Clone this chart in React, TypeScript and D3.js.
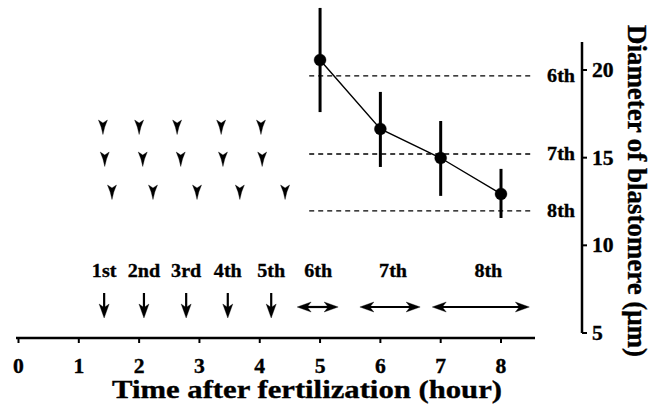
import React from "react";
import * as d3 from "d3";

const W = 661;
const H = 408;

// Blastomere diameter data (time in hours, diameter in µm)
const times = [5, 6, 7, 8];
const diameters = [20.57, 16.64, 14.98, 12.93];
const errLow = [17.6, 14.47, 12.82, 11.56];
const errHigh = [23.54, 18.75, 17.09, 14.36];

// Reference levels for 6th, 7th, 8th cleavage
const levelLabels = ["6th", "7th", "8th"];
const levelValues = [19.66, 15.21, 11.96];

// Arrowhead rows (times)
const arrowRow1 = [1.4, 2.0, 2.63, 3.36, 4.02];
const arrowRow2 = [1.43, 2.06, 2.69, 3.39, 4.04];
const arrowRow3 = [1.55, 2.23, 2.96, 3.67, 4.42];
const arrowRowY = [127, 159, 192];

// Cleavage events
const cleavageLabels = ["1st", "2nd", "3rd", "4th", "5th"];
const cleavageTimes = [1.42, 2.08, 2.78, 3.47, 4.19];
const rangeLabels = ["6th", "7th", "8th"];
const rangeStart = [4.62, 5.66, 6.86];
const rangeEnd = [5.3, 6.66, 8.47];
const rangeLabelPos = [4.97, 6.21, 7.79];

const xTicks = [0, 1, 2, 3, 4, 5, 6, 7, 8];
const yTicks = [5, 10, 15, 20];

const font = "'Liberation Serif', 'Times New Roman', serif";

function SText(props: {
  x: number;
  y: number;
  size: number;
  sx?: number;
  anchor?: string;
  children: React.ReactNode;
}) {
  const { x, y, size, sx = 1, anchor = "start", children } = props;
  return (
    <text
      transform={`translate(${x},${y}) scale(${sx},1)`}
      fontSize={size}
      textAnchor={anchor}
    >
      {children}
    </text>
  );
}

export default function App() {
  const x = d3.scaleLinear().domain([0, 8]).range([18.5, 501]);
  const y = d3.scaleLinear().domain([5, 20]).range([333, 70]);
  const axisY = 338;
  const yAxisX = 582;

  const line = d3
    .line<number>()
    .x((_, i) => x(times[i]))
    .y((d) => y(d));

  const arrowHead = (cx: number, cy: number, key: string) => (
    <path
      key={key}
      d={`M${cx},${cy + 7.5} L${cx - 1.8},${cy} L${cx - 4.5},${cy - 7} L${cx},${cy - 4} L${cx + 4.5},${cy - 7} L${cx + 1.8},${cy} Z`}
      fill="#000"
    />
  );

  const rows = [arrowRow1, arrowRow2, arrowRow3];

  return (
    <svg width={W} height={H} style={{ position: "absolute", left: 0, top: 0, background: "#fff" }}>
      <rect width={W} height={H} fill="#fff" />
      <g fontFamily={font} fontWeight="bold" fill="#000" stroke="#000" strokeWidth={0.35}>
        {/* dashed reference lines */}
        {levelValues.map((v, i) => (
          <g key={"lv" + i}>
            <line
              x1={x(4.82)}
              x2={x(8.52)}
              y1={y(v)}
              y2={y(v)}
              stroke="#000"
              strokeWidth={1.3}
              strokeDasharray="5,4"
            />
            <SText x={575} y={y(v) + 6.5} size={19.5} sx={1.03} anchor="end">
              {levelLabels[i]}
            </SText>
          </g>
        ))}

        {/* connecting line */}
        <path d={line(diameters) || ""} fill="none" stroke="#000" strokeWidth={1.4} />
        {/* error bars */}
        {times.map((t, i) => (
          <line
            key={"eb" + i}
            x1={x(t)}
            x2={x(t)}
            y1={y(errLow[i])}
            y2={y(errHigh[i])}
            stroke="#000"
            strokeWidth={3}
          />
        ))}
        {times.map((t, i) => (
          <circle key={"pt" + i} cx={x(t)} cy={y(diameters[i])} r={6} fill="#000" />
        ))}

        {/* arrowhead rows */}
        {rows.map((row, r) => row.map((t, j) => arrowHead(x(t), arrowRowY[r], `ah${r}-${j}`)))}

        {/* cleavage labels and down arrows */}
        {cleavageTimes.map((t, i) => (
          <g key={"cl" + i}>
            <SText x={x(t)} y={276.5} size={19.5} sx={1.03} anchor="middle">
              {cleavageLabels[i]}
            </SText>
            <line x1={x(t)} x2={x(t)} y1={293} y2={309} stroke="#000" strokeWidth={2.2} />
            <path
              d={`M${x(t)},${318} L${x(t) - 5},${304} L${x(t)},${307.5} L${x(t) + 5},${304} Z`}
              fill="#000"
            />
          </g>
        ))}

        {/* range double arrows */}
        {rangeStart.map((s, i) => {
          const a = x(s);
          const b = x(rangeEnd[i]);
          const yy = 307;
          return (
            <g key={"rg" + i}>
              <SText x={x(rangeLabelPos[i])} y={276.5} size={19.5} sx={1.03} anchor="middle">
                {rangeLabels[i]}
              </SText>
              <line x1={a + 6} x2={b - 6} y1={yy} y2={yy} stroke="#000" strokeWidth={2.2} />
              <path d={`M${a},${yy} L${a + 14},${yy - 5} L${a + 10},${yy} L${a + 14},${yy + 5} Z`} fill="#000" />
              <path d={`M${b},${yy} L${b - 14},${yy - 5} L${b - 10},${yy} L${b - 14},${yy + 5} Z`} fill="#000" />
            </g>
          );
        })}

        {/* x axis */}
        <line x1={16} x2={535} y1={axisY} y2={axisY} stroke="#000" strokeWidth={2.5} />
        {xTicks.map((t) => (
          <g key={"xt" + t}>
            <line x1={x(t)} x2={x(t)} y1={axisY} y2={axisY + 5} stroke="#000" strokeWidth={2} />
            <SText x={x(t)} y={372.5} size={20} sx={1.08} anchor="middle">
              {t}
            </SText>
          </g>
        ))}
        <text
          x={112}
          y={398}
          fontSize={25}
          textLength={390}
          lengthAdjust="spacingAndGlyphs"
        >
          Time after fertilization (hour)
        </text>

        {/* y axis */}
        <line x1={yAxisX} x2={yAxisX} y1={42} y2={y(5)} stroke="#000" strokeWidth={2.5} />
        {yTicks.map((v) => (
          <g key={"yt" + v}>
            <line x1={yAxisX} x2={yAxisX + 5} y1={y(v)} y2={y(v)} stroke="#000" strokeWidth={2} />
            <SText x={592} y={y(v) + 7} size={20} sx={1.08}>
              {v}
            </SText>
          </g>
        ))}
        <text
          x={0}
          y={0}
          fontSize={28}
          transform={`translate(628,25) rotate(90)`}
          textLength={332}
          lengthAdjust="spacingAndGlyphs"
        >
          Diameter of blastomere (μm)
        </text>
      </g>
    </svg>
  );
}
